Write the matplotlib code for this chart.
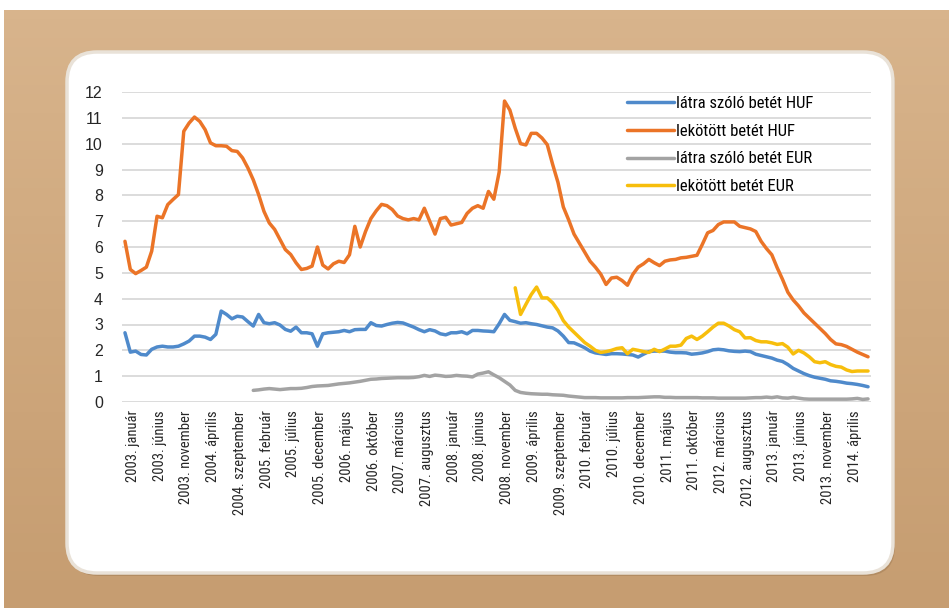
import os
import numpy as np
import matplotlib
matplotlib.use("Agg")
import matplotlib.pyplot as plt
from matplotlib import font_manager as fm
from matplotlib.patches import FancyBboxPatch
from matplotlib.colors import LinearSegmentedColormap
from matplotlib.transforms import ScaledTranslation

W, H = 949, 608
nan = np.nan

# havi adatok, 2003. január - 2014. augusztus
HONAPOK = ["január", "február", "március", "április", "május", "június",
           "július", "augusztus", "szeptember", "október", "november", "december"]
N = 140
honap_cimkek = [f"{2003 + i // 12}. {HONAPOK[i % 12]}" for i in range(N)]

latra_huf = [
    2.68, 1.93, 1.97, 1.84, 1.82, 2.04, 2.13, 2.16, 2.13, 2.13,
    2.16, 2.25, 2.36, 2.55, 2.55, 2.51, 2.42, 2.62, 3.52, 3.39,
    3.22, 3.32, 3.29, 3.11, 2.94, 3.39, 3.07, 3.03, 3.07, 2.98,
    2.81, 2.74, 2.90, 2.68, 2.68, 2.64, 2.16, 2.64, 2.68, 2.70,
    2.72, 2.77, 2.72, 2.80, 2.81, 2.81, 3.07, 2.96, 2.94, 3.00,
    3.05, 3.08, 3.06, 2.98, 2.90, 2.80, 2.72, 2.80, 2.75, 2.64,
    2.60, 2.68, 2.68, 2.72, 2.64, 2.77, 2.77, 2.75, 2.74, 2.72,
    3.03, 3.39, 3.16, 3.11, 3.05, 3.07, 3.03, 3.00, 2.95, 2.90,
    2.87, 2.75, 2.55, 2.30, 2.29, 2.20, 2.10, 1.97, 1.90, 1.87,
    1.84, 1.87, 1.87, 1.86, 1.84, 1.82, 1.74, 1.85, 1.95, 1.97,
    1.97, 1.97, 1.93, 1.91, 1.91, 1.90, 1.85, 1.87, 1.90, 1.95,
    2.02, 2.04, 2.02, 1.98, 1.96, 1.95, 1.97, 1.95, 1.85, 1.80,
    1.75, 1.70, 1.62, 1.57, 1.45, 1.30, 1.20, 1.10, 1.02, 0.96,
    0.92, 0.88, 0.82, 0.80, 0.77, 0.73, 0.71, 0.68, 0.64, 0.59,
]

lekotott_huf = [
    6.22, 5.13, 4.97, 5.09, 5.22, 5.84, 7.19, 7.13, 7.64, 7.84,
    8.03, 10.48, 10.80, 11.03, 10.86, 10.54, 10.03, 9.92, 9.92, 9.90,
    9.73, 9.70, 9.45, 9.06, 8.60, 8.03, 7.38, 6.93, 6.68, 6.29,
    5.90, 5.71, 5.39, 5.13, 5.17, 5.26, 6.00, 5.30, 5.15, 5.35,
    5.45, 5.40, 5.70, 6.80, 6.00, 6.60, 7.10, 7.40, 7.65, 7.60,
    7.45, 7.20, 7.10, 7.05, 7.10, 7.05, 7.50, 7.00, 6.50, 7.10,
    7.15, 6.85, 6.90, 6.95, 7.30, 7.50, 7.60, 7.50, 8.15, 7.85,
    8.90, 11.65, 11.30, 10.60, 10.00, 9.95, 10.40, 10.40, 10.22, 9.96,
    9.20, 8.50, 7.55, 7.05, 6.50, 6.15, 5.80, 5.45, 5.22, 4.95,
    4.55, 4.80, 4.83, 4.70, 4.52, 4.94, 5.22, 5.35, 5.52, 5.39,
    5.28, 5.45, 5.50, 5.52, 5.58, 5.60, 5.64, 5.68, 6.10, 6.55,
    6.64, 6.87, 6.97, 6.97, 6.97, 6.80, 6.75, 6.70, 6.60, 6.22,
    5.94, 5.70, 5.20, 4.75, 4.25, 3.95, 3.72, 3.45, 3.25, 3.05,
    2.85, 2.65, 2.42, 2.25, 2.22, 2.15, 2.04, 1.93, 1.84, 1.75,
]

latra_eur = [nan] * 24 + [
    0.45, 0.47, 0.50, 0.52, 0.50, 0.48, 0.50, 0.52, 0.52, 0.53,
    0.56, 0.60, 0.62, 0.63, 0.64, 0.67, 0.70, 0.72, 0.74, 0.77,
    0.80, 0.84, 0.88, 0.89, 0.91, 0.92, 0.93, 0.94, 0.94, 0.94,
    0.95, 0.98, 1.03, 0.99, 1.04, 1.02, 0.99, 1.00, 1.03, 1.01,
    1.00, 0.97, 1.08, 1.12, 1.17, 1.05, 0.94, 0.80, 0.66, 0.45,
    0.37, 0.34, 0.32, 0.31, 0.30, 0.30, 0.28, 0.27, 0.26, 0.23,
    0.21, 0.19, 0.17, 0.17, 0.17, 0.16, 0.16, 0.16, 0.16, 0.16,
    0.17, 0.17, 0.17, 0.18, 0.19, 0.20, 0.20, 0.18, 0.18, 0.17,
    0.17, 0.17, 0.17, 0.17, 0.16, 0.16, 0.16, 0.15, 0.15, 0.15,
    0.15, 0.15, 0.15, 0.16, 0.17, 0.17, 0.19, 0.17, 0.20, 0.16,
    0.15, 0.18, 0.15, 0.12, 0.11, 0.11, 0.11, 0.11, 0.11, 0.11,
    0.11, 0.11, 0.12, 0.14, 0.10, 0.12,
]

lekotott_eur = [nan] * 73 + [
    4.42, 3.39, 3.78, 4.16, 4.45, 4.03, 4.03, 3.84, 3.55, 3.15,
    2.90, 2.70, 2.50, 2.30, 2.16, 2.00, 1.92, 1.95, 2.00, 2.07,
    2.10, 1.87, 2.04, 2.00, 1.95, 1.92, 2.04, 1.95, 2.05, 2.16,
    2.16, 2.20, 2.46, 2.55, 2.42, 2.55, 2.72, 2.90, 3.05, 3.05,
    2.94, 2.80, 2.72, 2.48, 2.49, 2.38, 2.33, 2.33, 2.29, 2.23,
    2.26, 2.12, 1.86, 2.00, 1.90, 1.75, 1.56, 1.52, 1.56, 1.45,
    1.38, 1.35, 1.24, 1.18, 1.20, 1.20, 1.20,
]

sorozatok = [
    ("látra szóló betét HUF", latra_huf, "#4F8ACB"),
    ("lekötött betét HUF", lekotott_huf, "#EB7427"),
    ("látra szóló betét EUR", latra_eur, "#A3A3A3"),
    ("lekötött betét EUR", lekotott_eur, "#F7BE0C"),
]


def keskeny_betu():
    """Keskeny (narrow/condensed) sans betűtípus keresése, ha van telepítve."""
    fajlok = {os.path.basename(f.fname).lower(): f.fname
              for f in fm.fontManager.ttflist}
    for nev in ["liberationsansnarrow-regular.ttf", "arialn.ttf",
                "robotocondensed-regular.ttf", "opensans_condensed-regular.ttf",
                "dejavusanscondensed.ttf"]:
        if nev in fajlok:
            return fajlok[nev], True
    return None, False


keskeny_fajl, van_keskeny = keskeny_betu()


def betu(meret):
    if van_keskeny:
        return fm.FontProperties(fname=keskeny_fajl, size=meret)
    return fm.FontProperties(family=["Liberation Sans", "DejaVu Sans"],
                             size=meret * 0.86)


SANS = ["Liberation Sans", "DejaVu Sans"]

fig = plt.figure(figsize=(W / 100, H / 100), dpi=100)
fig.patch.set_facecolor("white")

# --- háttér: kartonpapír + lekerekített fehér tábla ---------------------------
bg = fig.add_axes([0, 0, 1, 1], zorder=-5)
bg.set_xlim(0, W)
bg.set_ylim(H, 0)
bg.axis("off")
karton = LinearSegmentedColormap.from_list("karton", ["#D8B48C", "#CFA87D", "#C69D71"])
grad = np.linspace(0, 1, 64).reshape(-1, 1)
bg.imshow(grad, extent=(4, W, H, 10), cmap=karton, aspect="auto", zorder=0)

bg.add_patch(FancyBboxPatch((69, 55), 826, 521,
                            boxstyle="round,pad=0,rounding_size=30",
                            fc="#8E6B46", ec="none", alpha=0.35, zorder=1))
bg.add_patch(FancyBboxPatch((67, 52), 826, 521,
                            boxstyle="round,pad=0,rounding_size=30",
                            fc="white", ec="#E9E2D8", lw=2.5, zorder=2))

# --- diagram ---------------------------------------------------------------
ax = fig.add_axes([122.3 / W, (H - 402) / H, 748.4 / W, 310 / H])
ax.patch.set_alpha(0)
x = np.arange(N)
for nev, ertekek, szin in sorozatok:
    ax.plot(x, ertekek, color=szin, lw=2.5, label=nev,
            solid_joinstyle="round", solid_capstyle="round", zorder=3)

ax.set_xlim(-0.5, N - 0.5)
ax.set_ylim(0, 12)
ax.set_yticks(range(0, 13))
ax.yaxis.grid(True, color="#D9D9D9", lw=1.3, zorder=0)
ax.set_axisbelow(True)
for s in ax.spines.values():
    s.set_visible(False)
ax.tick_params(length=0)
ax.tick_params(axis="y", pad=14, labelsize=11.5, labelcolor="#262626")
for t in ax.get_yticklabels():
    t.set_family(SANS)

tick_pos = list(range(0, N, 5))
ax.set_xticks(tick_pos)
ax.set_xticklabels([honap_cimkek[i] for i in tick_pos], rotation=90,
                   color="#262626", fontproperties=betu(10.5))
ax.tick_params(axis="x", pad=6)
eltolas = ScaledTranslation(8 / 100, 0, fig.dpi_scale_trans)
for t in ax.get_xticklabels():
    t.set_transform(t.get_transform() + eltolas)

ax.legend(loc="upper left", bbox_to_anchor=(627 / W, 1 - 96 / H),
          bbox_transform=fig.transFigure, frameon=False, borderpad=0,
          borderaxespad=0, handlelength=2.8, handletextpad=0.15,
          labelspacing=0.76, prop=betu(12.0))

fig.savefig("out.png", dpi=100, facecolor=fig.get_facecolor())
